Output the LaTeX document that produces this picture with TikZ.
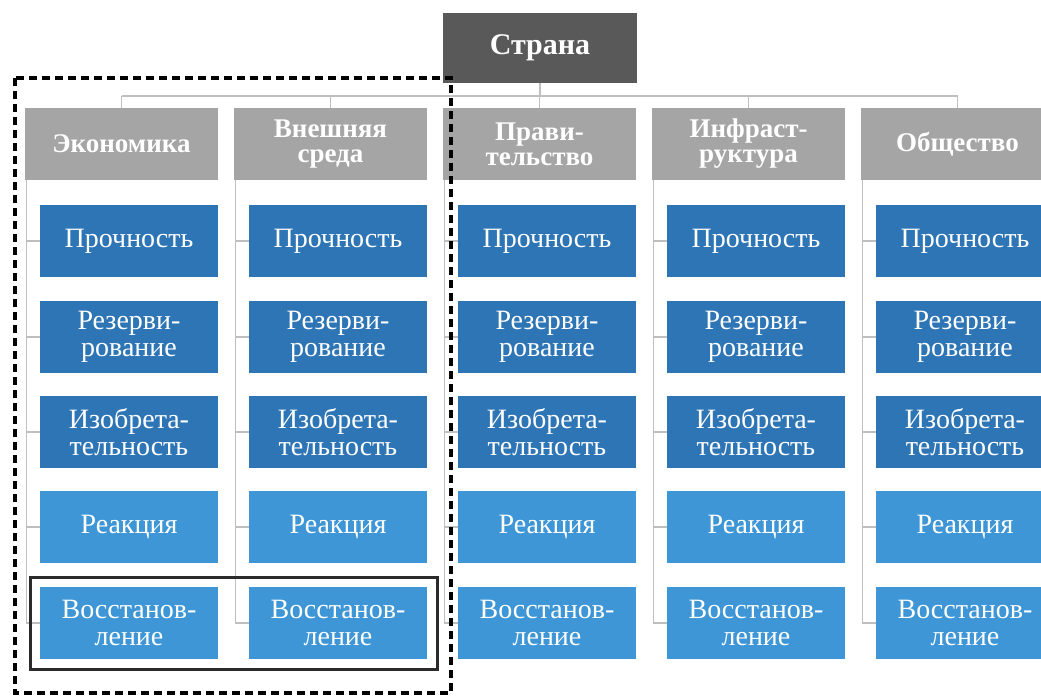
\documentclass[tikz,border=0pt]{standalone}
\usepackage{fontspec}
\setmainfont{Liberation Serif}
\definecolor{stranac}{HTML}{595959}
\definecolor{headc}{HTML}{A5A5A5}
\definecolor{darkb}{HTML}{2E75B6}
\definecolor{lightb}{HTML}{3E96D6}
\definecolor{linec}{HTML}{BFBFBF}
\definecolor{framec}{HTML}{2B2B2B}
\begin{document}
\begin{tikzpicture}[x=1pt,y=-1pt,
  box/.style={inner sep=0pt, outer sep=0pt, text=white, align=center, anchor=north west},
  topbox/.style={box, fill=stranac, minimum width=194pt, minimum height=70pt, font=\fontsize{30}{24}\selectfont\bfseries},
  headbox/.style={box, fill=headc, minimum width=193pt, minimum height=72pt, font=\fontsize{27}{25}\selectfont\bfseries},
  child/.style={box, minimum width=178pt, minimum height=72pt, font=\fontsize{28}{27}\selectfont},
  dchild/.style={child, fill=darkb},
  lchild/.style={child, fill=lightb},
  conn/.style={draw=linec, line width=1.5pt},
  dashframe/.style={draw=black, line width=4pt, dash pattern=on 8pt off 5pt},
  solidframe/.style={draw=framec, line width=3pt}
]
\clip (0,0) rectangle (1041,698);
\fill[white] (0,0) rectangle (1041,698);

\node[topbox] (top) at (443,13) {Страна};
\node[headbox] (h1) at (25,108) {Экономика};
\node[headbox] (h2) at (234,108) {Внешняя\\среда};
\node[headbox] (h3) at (443,108) {Прави-\\тельство};
\node[headbox] (h4) at (652,108) {Инфраст-\\руктура};
\node[headbox] (h5) at (861,108) {Общество};

\coordinate (bus) at (0,96);
\draw[conn] (top.south) -- (top.south |- bus);
\draw[conn] (h1.north |- bus) -- (h5.north |- bus);
\foreach \i in {1,...,5}{
  \draw[conn] (h\i.north) -- (h\i.north |- bus);
}

\foreach \i/\L in {1/25,2/234,3/443,4/652,5/861}{
  \node[dchild] (c\i-1) at (\L+15,205) {Прочность};
  \node[dchild] (c\i-2) at (\L+15,301) {Резерви-\\рование};
  \node[dchild] (c\i-3) at (\L+15,396) {Изобрета-\\тельность};
  \node[lchild] (c\i-4) at (\L+15,491) {Реакция};
  \node[lchild] (c\i-5) at (\L+15,587) {Восстанов-\\ление};
  \foreach \k in {1,...,5}{
    \draw[conn] ([xshift=1.5pt]h\i.south west) |- (c\i-\k.west);
  }
}

\draw[solidframe] (30,577) rectangle (437,669);
\draw[dashframe] (15,78) rectangle (451,693);
\end{tikzpicture}
\end{document}
